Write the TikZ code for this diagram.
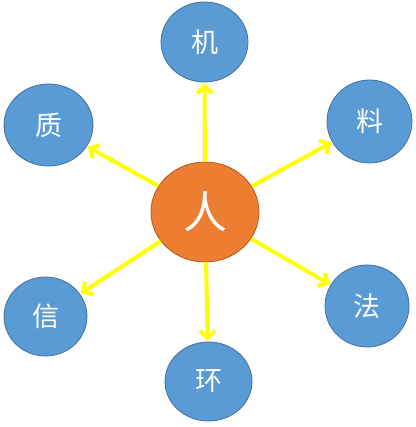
\documentclass[tikz,border=0pt]{standalone}
\usepackage{fontspec}
\newfontfamily\cjk{Noto Sans CJK SC}
\usetikzlibrary{shapes.geometric,arrows.meta}
\definecolor{bluefill}{RGB}{91,155,213}
\definecolor{blueline}{RGB}{65,113,156}
\definecolor{orfill}{RGB}{237,125,49}
\definecolor{orline}{RGB}{174,90,33}
\definecolor{yel}{RGB}{255,255,0}
\tikzset{
  outer/.style={ellipse, fill=bluefill, draw=blueline, line width=0.8pt, inner sep=0pt, text=white, font=\cjk\fontsize{27}{27}\selectfont},
  center/.style={ellipse, fill=orfill, draw=orline, line width=0.8pt, inner sep=0pt, text=white, font=\cjk\fontsize{44}{44}\selectfont},
  arr/.style={draw=yel, line width=4pt, -{Straight Barb[length=7pt,width=15pt]}}
}
\begin{document}
\begin{tikzpicture}[x=1pt,y=-1pt]
\useasboundingbox (0,0) rectangle (415,427);
\node[center, minimum width=108pt, minimum height=100pt] (c) at (205,212) {人};
\node[outer, minimum width=87pt, minimum height=80pt] (ji) at (204.5,42) {机};
\node[outer, minimum width=85pt, minimum height=83pt] (liao) at (369.5,121.5) {料};
\node[outer, minimum width=84pt, minimum height=82pt] (fa) at (367,306) {法};
\node[outer, minimum width=87pt, minimum height=79pt] (huan) at (208.5,381.5) {环};
\node[outer, minimum width=83pt, minimum height=79pt] (xin) at (45.5,316.5) {信};
\node[outer, minimum width=89pt, minimum height=82pt] (zhi) at (48.5,125) {质};
\draw[arr, shorten >=1pt] (c) -- (ji);
\draw[arr, shorten >=1pt] (c) -- (liao);
\draw[arr, shorten >=1pt] (c) -- (fa);
\draw[arr, shorten >=1pt] (c) -- (huan);
\draw[arr, shorten >=1pt] (c) -- (xin);
\draw[arr, shorten >=1pt] (c) -- (zhi);
\end{tikzpicture}
\end{document}
